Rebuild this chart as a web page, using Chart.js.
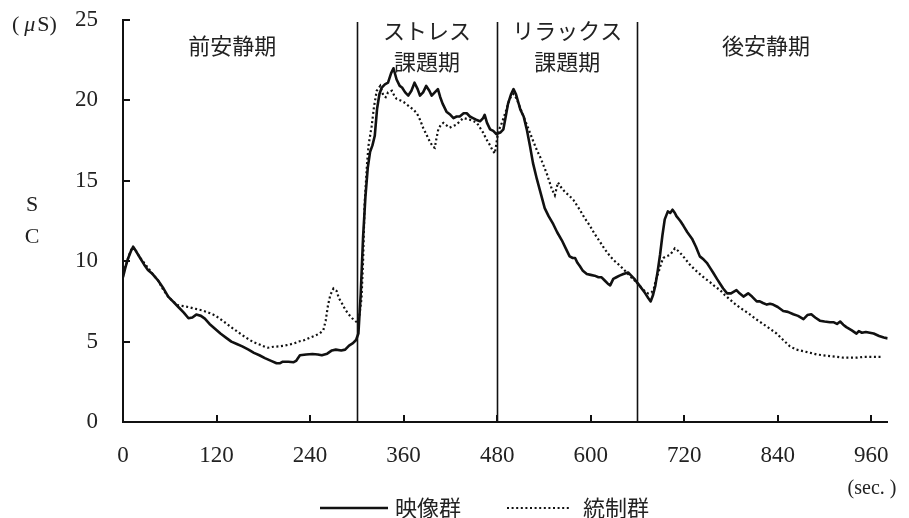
<!DOCTYPE html>
<html lang="ja">
<head>
<meta charset="utf-8">
<title>SC</title>
<script src="https://cdn.jsdelivr.net/npm/chart.js@4/dist/chart.umd.min.js"></script>
<style>
  html, body { margin: 0; padding: 0; background: #fff; }
  #wrap { width: 909px; height: 518px; }
</style>
</head>
<body>
<div id="wrap"><canvas id="sc" width="909" height="518"></canvas></div>
<script>
// Skin conductance (μS) over time (sec.) for the two groups
const imageTimes = [0,3,6,10,13,17,22,27,32,38,45,52,58,64,71,78,84,89,94,100,105,111,118,125,132,139,146,153,161,168,175,182,190,197,201,205,212,219,222,227,235,243,250,255,262,268,273,280,285,290,295,299,302,305,308,311,314,317,320,323,326,329,332,336,340,344,347,351,355,358,362,366,370,374,378,381,385,389,393,396,400,404,407,410,415,420,424,428,432,437,441,445,449,453,458,462,464,467,471,475,479,484,488,491,494,498,501,504,507,510,514,518,522,526,531,536,541,546,552,557,563,568,573,577,580,583,586,590,595,600,605,610,614,618,622,625,629,633,637,642,648,652,656,659,664,670,674,677,680,683,686,689,692,695,699,702,705,708,710,715,719,724,730,735,740,745,749,753,757,762,766,770,775,780,787,791,796,802,807,813,817,821,826,830,834,840,847,853,860,866,873,878,883,888,894,900,907,912,916,920,924,928,935,941,944,948,953,958,963,970,976,981];
const imageSC = [9.0,9.6,10.1,10.6,10.9,10.6,10.2,9.8,9.45,9.2,8.8,8.3,7.8,7.5,7.15,6.8,6.45,6.5,6.68,6.6,6.43,6.1,5.8,5.5,5.25,5.0,4.85,4.7,4.5,4.3,4.15,3.97,3.8,3.65,3.65,3.75,3.75,3.72,3.8,4.15,4.2,4.23,4.2,4.15,4.25,4.45,4.5,4.45,4.5,4.75,4.9,5.1,5.5,8.0,11.5,14.0,15.8,16.8,17.2,17.8,19.5,20.4,20.8,21.0,21.1,21.7,22.0,21.3,20.9,20.8,20.5,20.3,20.6,21.1,20.7,20.3,20.5,20.9,20.6,20.3,20.5,20.7,20.2,19.8,19.3,19.1,18.9,19.0,19.0,19.2,19.2,19.0,18.9,18.8,18.7,18.9,19.1,18.6,18.2,18.1,17.9,18.0,18.2,19.0,19.8,20.4,20.7,20.4,19.9,19.4,19.0,18.2,17.2,16.1,15.1,14.2,13.3,12.8,12.3,11.8,11.3,10.8,10.3,10.2,10.2,9.9,9.7,9.4,9.2,9.15,9.1,9.0,9.0,8.8,8.6,8.5,8.9,9.0,9.1,9.2,9.3,9.1,8.9,8.7,8.4,8.0,7.7,7.5,7.9,8.5,9.4,10.4,11.6,12.6,13.1,13.0,13.2,13.0,12.8,12.5,12.2,11.8,11.4,10.9,10.3,10.1,9.9,9.6,9.3,8.9,8.6,8.3,8.0,8.0,8.2,8.0,7.8,8.0,7.8,7.5,7.5,7.4,7.3,7.35,7.3,7.15,6.9,6.85,6.7,6.6,6.4,6.65,6.7,6.5,6.3,6.25,6.2,6.2,6.1,6.25,6.05,5.9,5.7,5.5,5.65,5.55,5.6,5.55,5.5,5.35,5.25,5.2];

const controlTimes = [0,4,8,12,16,22,27,32,38,45,52,58,64,71,78,84,92,101,110,118,125,132,139,146,153,161,168,176,183,186,193,200,207,214,220,225,233,240,246,252,257,260,263,266,270,274,277,281,285,289,294,300,303,306,308,310,313,315,319,322,325.5,330,334,337,340,345,348,351,356,360,364,368,373,377,381,385,390,394,398,400,402,404.5,408,411,415,419,423,428,432,436.6,441,445,450,454,458,462,466,471,474,477,479,481,486,491,496,501,505,509,513,518,522,526,531,535,540,544,548,550,554,556,558,562,567,572,578,582,586,592,599,605,612,618,625,631,638,644,650,655,659,664,670,674,678,681,684,687,690,693,697,702,705,708,712,717,722,727,733,740,746,753,759,766,772,779,785,791.6,798,804,812,821,830,838.6,847,855.7,864,873,882,890,898,907,916,924,933,941,950,958,966,975];
const controlSC = [9.3,9.8,10.4,10.9,10.7,10.2,9.9,9.6,9.2,8.8,8.2,7.8,7.5,7.25,7.2,7.15,7.05,6.95,6.8,6.63,6.4,6.15,5.89,5.65,5.4,5.15,4.95,4.8,4.65,4.62,4.68,4.7,4.75,4.82,4.9,5.0,5.1,5.25,5.36,5.5,5.7,6.3,7.26,7.9,8.3,8.15,7.7,7.37,7.0,6.73,6.45,6.2,6.5,7.7,10.0,13.6,16.0,17.2,18.4,19.6,20.6,20.9,20.3,20.2,20.5,20.6,20.3,20.1,20.0,19.9,19.75,19.6,19.4,19.2,18.8,18.3,17.8,17.4,17.1,17.05,17.6,18.2,18.5,18.6,18.45,18.3,18.4,18.5,18.7,18.9,18.85,18.8,18.7,18.6,18.3,18.0,17.6,17.2,16.9,16.7,17.3,18.0,18.6,19.3,20.1,20.4,20.1,19.6,19.1,18.5,18.0,17.5,16.9,16.5,15.9,15.4,14.8,14.5,14.1,14.5,14.9,14.6,14.3,14.1,13.8,13.5,13.2,12.7,12.2,11.7,11.2,10.75,10.3,10.0,9.7,9.4,9.1,8.85,8.7,8.4,8.1,8.0,8.05,8.3,8.9,9.3,9.8,10.2,10.3,10.4,10.6,10.8,10.65,10.4,10.1,9.8,9.5,9.2,8.95,8.7,8.45,8.2,7.9,7.6,7.35,7.1,6.9,6.7,6.4,6.1,5.8,5.5,5.1,4.7,4.5,4.4,4.3,4.2,4.15,4.1,4.05,4.0,4.0,4.0,4.05,4.05,4.05,4.05];

const seriesNames = ['映像群', '統制群'];
const xTicks = [0, 120, 240, 360, 480, 600, 720, 840, 960];
const yTicks = [0, 5, 10, 15, 20, 25];
const periodBounds = [300, 480, 660];
const periodLabels = [['前安静期'], ['ストレス', '課題期'], ['リラックス', '課題期'], ['後安静期']];
const periodCenters = [140, 390, 570, 825];

const SERIF = '"Liberation Serif", "DejaVu Serif", serif';
const CJK = '"Noto Sans CJK JP", "Noto Sans", sans-serif';
const INK = '#222';

const toPoints = (ts, vs) => ts.map((t, i) => ({ x: t, y: vs[i] }));

const decorations = {
  id: 'decorations',
  afterDatasetsDraw(chart) {
    const { ctx, chartArea, scales: { x, y } } = chart;
    ctx.save();
    // period boundaries
    ctx.strokeStyle = '#111';
    ctx.lineWidth = 1.6;
    periodBounds.forEach(v => {
      const px = Math.round(x.getPixelForValue(v)) + 0.5;
      ctx.beginPath();
      ctx.moveTo(px, chartArea.top + 2);
      ctx.lineTo(px, chartArea.bottom);
      ctx.stroke();
    });
    // inward tick marks
    ctx.lineWidth = 2;
    yTicks.forEach(v => {
      const py = Math.round(y.getPixelForValue(v));
      ctx.beginPath();
      ctx.moveTo(chartArea.left, py);
      ctx.lineTo(chartArea.left + 7, py);
      ctx.stroke();
    });
    xTicks.forEach(v => {
      const px = Math.round(x.getPixelForValue(v));
      ctx.beginPath();
      ctx.moveTo(px, chartArea.bottom);
      ctx.lineTo(px, chartArea.bottom - 7);
      ctx.stroke();
    });
    // period names
    ctx.fillStyle = INK;
    ctx.font = '22px ' + CJK;
    ctx.textAlign = 'center';
    ctx.textBaseline = 'middle';
    periodLabels.forEach((lines, i) => {
      const cx = x.getPixelForValue(periodCenters[i]);
      if (lines.length === 1) {
        ctx.fillText(lines[0], cx, 46);
      } else {
        ctx.fillText(lines[0], cx, 31);
        ctx.fillText(lines[1], cx, 62);
      }
    });
    // unit labels
    ctx.font = '22px ' + SERIF;
    ctx.textAlign = 'left';
    let ux = 12;
    const uy = 25;
    ctx.fillText('(', ux, uy); ux += ctx.measureText('(').width + 5;
    ctx.font = 'italic 22px ' + SERIF;
    ctx.fillText('μ', ux, uy); ux += ctx.measureText('μ').width + 2;
    ctx.font = '22px ' + SERIF;
    ctx.fillText('S)', ux, uy);
    ctx.textAlign = 'center';
    ctx.fillText('S', 32, 205);
    ctx.fillText('C', 32, 237);
    ctx.font = '20px ' + SERIF;
    ctx.fillText('(sec. )', 872, 489);
    // legend
    const ds = chart.data.datasets;
    const items = [
      { x0: 320, x1: 388, tx: 395 },
      { x0: 507, x1: 570, tx: 583 }
    ];
    const ly = 508;
    items.forEach((it, i) => {
      ctx.strokeStyle = ds[i].borderColor;
      ctx.lineWidth = ds[i].borderWidth;
      ctx.setLineDash(ds[i].borderDash || []);
      ctx.beginPath();
      ctx.moveTo(it.x0, ly);
      ctx.lineTo(it.x1, ly);
      ctx.stroke();
      ctx.setLineDash([]);
      ctx.font = '22px ' + CJK;
      ctx.textAlign = 'left';
      ctx.fillStyle = INK;
      ctx.fillText(ds[i].label, it.tx, ly);
    });
    ctx.restore();
  }
};

new Chart(document.getElementById('sc'), {
  type: 'line',
  data: {
    datasets: [
      {
        label: seriesNames[0],
        data: toPoints(imageTimes, imageSC),
        borderColor: '#111',
        borderWidth: 2.6,
        pointRadius: 0,
        tension: 0,
        borderJoinStyle: 'round'
      },
      {
        label: seriesNames[1],
        data: toPoints(controlTimes, controlSC),
        borderColor: '#111',
        borderWidth: 2.2,
        borderDash: [2, 2.6],
        pointRadius: 0,
        tension: 0
      }
    ]
  },
  options: {
    responsive: false,
    devicePixelRatio: 1,
    animation: false,
    events: [],
    layout: { padding: { top: 20, right: 21, left: 0, bottom: 0 } },
    plugins: { legend: { display: false }, tooltip: { enabled: false } },
    scales: {
      x: {
        type: 'linear',
        min: 0,
        max: 981,
        grid: { display: false, drawTicks: false },
        border: { display: true, color: '#111', width: 2 },
        afterBuildTicks: s => { s.ticks = xTicks.map(v => ({ value: v })); },
        afterFit: s => { s.height = 96; },
        ticks: {
          padding: 20,
          maxRotation: 0,
          autoSkip: false,
          color: INK,
          font: { family: SERIF, size: 23 }
        }
      },
      y: {
        type: 'linear',
        min: 0,
        max: 25,
        grid: { display: false, drawTicks: false },
        border: { display: true, color: '#111', width: 2 },
        afterBuildTicks: s => { s.ticks = yTicks.map(v => ({ value: v })); },
        afterFit: s => { s.width = 123; s.paddingTop = 0; s.paddingBottom = 0; },
        ticks: {
          padding: 25,
          color: INK,
          font: { family: SERIF, size: 23 }
        }
      }
    }
  },
  plugins: [decorations]
});
</script>
</body>
</html>
